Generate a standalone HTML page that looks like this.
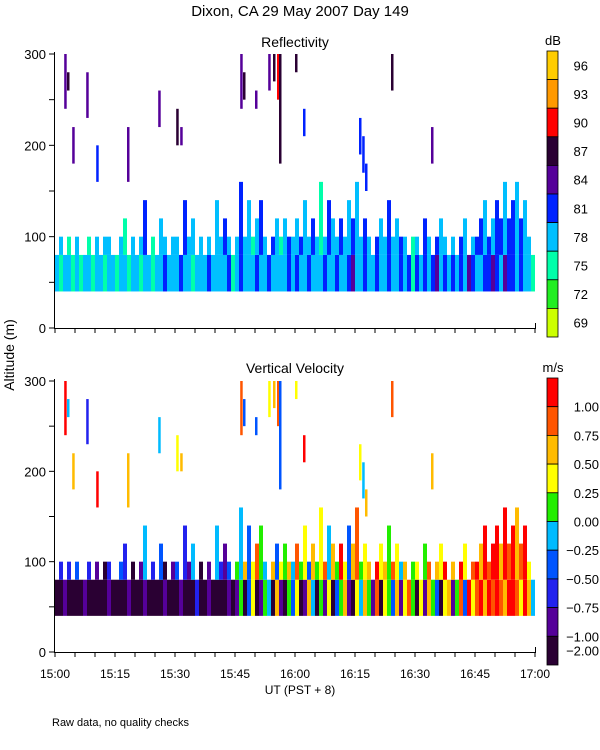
<!DOCTYPE html>
<html><head><meta charset="utf-8"><style>
body{margin:0;background:#fff}
svg{display:block;font-family:"Liberation Sans",sans-serif}
</style></head><body>
<svg id="c" width="600" height="750" viewBox="0 0 600 750">
<text x="300" y="16" text-anchor="middle" font-size="15">Dixon, CA 29 May 2007  Day 149</text>
<text x="295" y="47" text-anchor="middle" font-size="14">Reflectivity</text>
<text x="295" y="373" text-anchor="middle" font-size="14">Vertical Velocity</text>
<text x="300" y="694" text-anchor="middle" font-size="12">UT  (PST + 8)</text>
<text transform="translate(14,355) rotate(-90)" text-anchor="middle" font-size="14">Altitude (m)</text>
<text x="52" y="726" font-size="11">Raw data, no quality checks</text>
<g id="marks"></g>
<g id="axes"></g>
</svg>
<script>
const tops=[80,100,80,100,80,100,80,80,100,80,100,80,100,100,80,80,100,120,80,100,80,100,140,80,100,80,120,100,80,100,100,80,140,100,120,80,100,80,100,80,140,100,120,100,80,100,160,100,140,100,120,140,100,80,100,120,100,120,100,100,120,100,140,100,120,100,160,100,140,120,100,120,100,140,120,160,100,120,100,80,100,120,100,140,100,120,100,100,80,100,100,80,120,100,80,100,120,100,80,100,80,100,120,80,100,100,120,140,100,120,140,120,160,120,140,160,120,140,100,80];
const reflLow=[78,75,78,78,75,78,75,78,78,75,78,78,75,78,78,75,78,78,75,78,78,75,78,78,75,78,78,81,78,78,78,81,78,78,75,78,78,78,81,78,78,78,78,81,75,78,81,78,78,78,81,78,78,81,78,78,78,78,81,78,81,78,78,81,78,78,78,81,78,78,81,78,78,81,84,78,78,81,78,78,81,78,78,81,78,78,81,78,81,75,81,78,81,78,81,84,78,81,78,81,78,81,78,84,81,78,78,81,81,84,81,78,84,81,81,78,81,78,78,75];
const reflHigh=[75,78,78,75,78,78,75,78,75,78,78,75,78,78,75,78,78,75,78,78,75,78,81,78,75,78,78,78,75,78,78,75,81,78,78,75,78,81,78,75,78,78,81,78,75,78,81,78,78,75,78,81,78,78,81,78,75,78,81,78,78,81,78,78,81,78,75,78,81,78,78,81,78,78,81,78,78,81,78,78,81,78,78,81,78,78,81,78,78,75,78,78,81,78,78,81,78,78,81,78,78,81,78,81,78,81,81,78,81,78,81,81,78,81,81,78,81,78,78,75];
const velLow=[-2,-2,-1,-2,-2,-2,-2,-1,-2,-2,-2,-2,-2,-1,-2,-2,-2,-2,-1,-2,-2,-2,-1,-2,-2,-2,-2,-1,-2,-2,-2,-1,-2,-2,-2,-0.75,-2,-2,-1,-2,-2,-2,-2,-1,-2,-1,0,-2,-0.5,0.25,-2,-1,0,-0.25,-2,0.5,-1,-2,0,-0.5,0.25,-2,-1,0.5,-0.25,-2,0,-1,0.25,-2,-0.5,0,0.5,-1,-2,0.25,-0.25,0.5,0,-1,0.75,-2,0.25,0,-0.5,0.5,-1,0.25,0.75,0,-2,0.25,-1,0.5,0,-0.5,-2,0.25,0.5,-1,0,0.75,-0.5,1,0.25,0.75,1,0.5,1,0.75,1,0.75,0.5,1,1,0.75,0.25,1,0.5,-0.25];
const velHigh=[-1,-0.75,-2,-0.75,-1,-0.5,-2,-1,-0.75,-2,-1,-0.5,-2,-0.75,-1,-2,-0.5,-0.75,-1,-2,-0.75,-1,-0.25,-2,-0.75,-1,-0.5,-2,-0.75,-1,-0.5,-2,-0.75,-1,-0.25,-0.5,-2,-0.75,-1,-0.5,-0.25,-0.75,-1,-0.5,0,0,-0.25,0.5,-0.5,0.25,0.75,0,-0.25,1,0.5,-0.5,0.25,0,0.5,-0.25,0.75,0,0.25,-0.5,0.5,0,0.25,0.75,-0.25,0.5,0,1,0.25,-0.5,0.5,0.75,0,0.25,0.5,-0.25,1,0.25,0.5,0,0.75,0.25,-0.25,0.5,0.75,0,0.25,0.5,0,0.75,-0.25,0.5,0.25,1,0,0.5,0.75,1,0.25,1,0.75,1,0.5,1,0.75,1,1,0.5,1,0.75,1,0.5,0.75,1,0.25,-0.5];
const aloftT=[2.3,3.0,4.3,7.8,10.3,18,25.8,30.3,31.3,46.3,47,50,53.3,54.5,55.5,56,60,62,76,76.8,77.5,84,94];
const aloftBot=[240,260,180,230,160,160,220,200,200,240,250,240,260,270,250,180,280,210,190,170,150,260,180];
const aloftTop=[300,280,220,280,200,220,260,240,220,300,280,260,300,300,300,300,300,240,230,210,180,300,220];
const aloftDb=[84,87,84,84,81,84,84,87,84,84,87,84,84,87,90,87,87,81,81,81,81,87,84];
const aloftVel=[1,-0.25,0.5,-0.75,1,0.5,-0.25,0.25,0.5,0.75,-0.5,-0.5,0.25,0.5,0.75,-0.5,0.25,1,0.25,-0.25,0.5,0.75,0.5];
const dbTicks=[69,72,75,78,81,84,87,90,93,96];
const dbColors=["#ccff00","#22ee22","#00ffaa","#00bfff","#0022ff","#550099","#2a0033","#ff0000","#ff9900","#ffcc00"];
const velTicks=["1.00","0.75","0.50","0.25","0.00","-0.25","-0.50","-0.75","-1.00","-2.00"];
const velColors=["#ff0000","#ff5500","#ffbb00","#ffff00","#22ee00","#00bbff","#0055ff","#2222ee","#550099","#2a0033"];
const timeLabels=["15:00","15:15","15:30","15:45","16:00","16:15","16:30","16:45","17:00"];
const altTicks=[0,100,200,300];

const NS="http://www.w3.org/2000/svg";
const marks=document.getElementById('marks'), axes=document.getElementById('axes');
const X0=55,X1=535;
const xs=m=>X0+(X1-X0)*m/120;
const yTop=a=>328-a*274/300;
const yBot=a=>652-a*271/300;
function mk(tag,attrs,parent){const e=document.createElementNS(NS,tag);for(const k in attrs)e.setAttribute(k,attrs[k]);parent.appendChild(e);return e;}
function dbColor(v){let i=Math.round((v-69)/3);i=Math.max(0,Math.min(9,i));return dbColors[i];}
function velColor(v){if(v>=1)return velColors[0];if(v>=0.75)return velColors[1];if(v>=0.5)return velColors[2];if(v>=0.25)return velColors[3];if(v>=0)return velColors[4];if(v>=-0.25)return velColors[5];if(v>=-0.5)return velColors[6];if(v>=-0.75)return velColors[7];if(v>=-1)return velColors[8];return velColors[9];}
function bar(parent,x,w,y0,y1,fill,name){
  const r=mk('rect',{x:x,y:Math.min(y0,y1),width:w,height:Math.abs(y1-y0),fill:fill},parent);
  
  
}
for(let i=0;i<tops.length;i++){
  const x=xs(i), w=xs(i+1)-xs(i);
  const mid=Math.min(80,tops[i]);
  bar(marks,x,w,yTop(40),yTop(mid),dbColor(reflLow[i]),'refl-low-cell');
  if(tops[i]>80)bar(marks,x,w,yTop(80),yTop(tops[i]),dbColor(reflHigh[i]),'refl-high-cell');
  bar(marks,x,w,yBot(40),yBot(mid),velColor(velLow[i]),'vel-low-cell');
  if(tops[i]>80)bar(marks,x,w,yBot(80),yBot(tops[i]),velColor(velHigh[i]),'vel-high-cell');
}
for(let i=0;i<aloftT.length;i++){
  const x=xs(aloftT[i]);
  bar(marks,x,2.5,yTop(aloftBot[i]),yTop(aloftTop[i]),dbColor(aloftDb[i]),'refl-aloft-echo');
  bar(marks,x,2.5,yBot(aloftBot[i]),yBot(aloftTop[i]),velColor(aloftVel[i]),'vel-aloft-echo');
}
function panelAxes(yf,showX,prefix){
  const ln=(a,n)=>{const l=mk('line',Object.assign({stroke:'#000','stroke-width':1},a),axes);};
  ln({x1:54.5,y1:yf(300)-2,x2:54.5,y2:yf(0)},prefix+'-y-axis');
  ln({x1:54,y1:yf(0)+0.5,x2:X1+1,y2:yf(0)+0.5},prefix+'-x-axis');
  for(let a=0;a<=300;a+=50)ln({x1:49,y1:yf(a),x2:54,y2:yf(a)},prefix+'-y-tick');
  altTicks.forEach(a=>{const t=mk('text',{x:46,y:yf(a)+5,'text-anchor':'end','font-size':13},axes);t.textContent=a;});
  for(let m=0;m<=120;m+=5)ln({x1:xs(m),y1:yf(0),x2:xs(m),y2:yf(0)+5},prefix+'-x-tick');
  ln({x1:X1+0.5,y1:yf(0),x2:X1+0.5,y2:yf(0)-5},prefix+'-x-end-tick');
  if(showX)timeLabels.forEach((s,i)=>{const t=mk('text',{x:xs(i*15),y:yf(0)+26,'text-anchor':'middle','font-size':12},axes);t.textContent=s;});
}
panelAxes(yTop,false,'refl');
panelAxes(yBot,true,'vel');
function cbar(top,bottom,colors,labels,unit,name,boundary){
  const n=colors.length,h=(bottom-top)/n;
  const u=mk('text',{x:553,y:top-6,'text-anchor':'middle','font-size':13},axes);u.textContent=unit;
  for(let i=0;i<n;i++){
    const r=mk('rect',{x:547,y:top+i*h,width:11,height:h,fill:colors[boundary?i:n-1-i],stroke:'#000','stroke-width':0.8},axes);
    
  }
  labels.forEach((s,i)=>{
    let y;
    if(boundary)y=(i<labels.length-1)?top+(i+1)*h:top+(n-0.5)*h;
    else y=top+(n-1-i+0.5)*h;
    const t=mk('text',{x:boundary?599:588,y:y+5,'text-anchor':'end','font-size':13},axes);
    t.textContent=s.toString().replace('-','\u2212');
    
  });
}
cbar(51,337,dbColors,dbTicks,'dB','refl-colorbar',false);
cbar(378,665,velColors,velTicks,'m/s','vel-colorbar',true);
</script>
</body></html>
